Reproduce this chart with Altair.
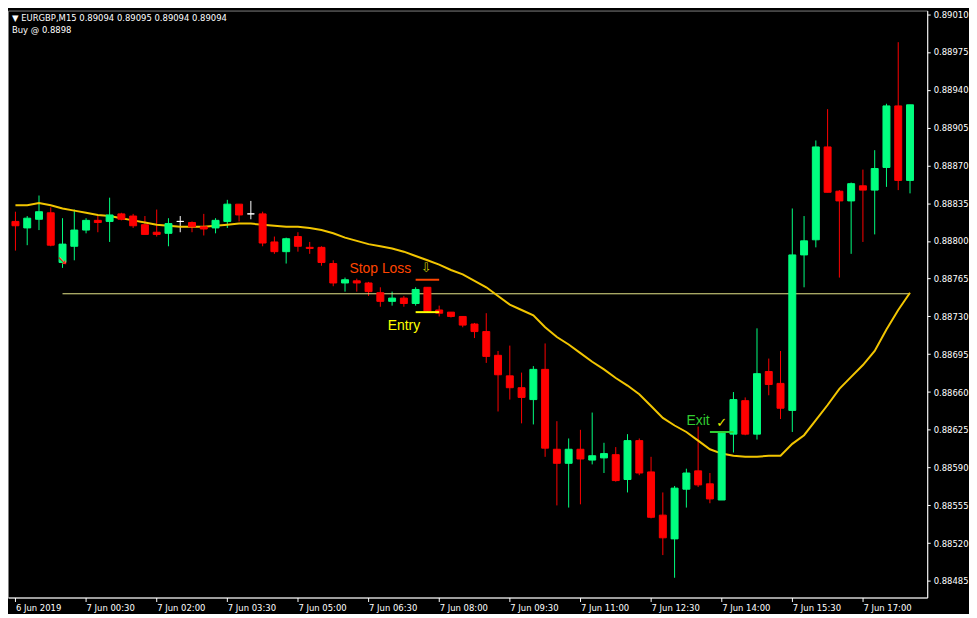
import altair as alt
import pandas as pd

# ---- data (EURGBP M15) ----
opens = [
    0.88818, 0.88812, 0.88820, 0.88826, 0.88780, 0.88795, 0.88810, 0.88819, 0.88818, 0.88825,
    0.88823, 0.88815, 0.88808, 0.88807, 0.88818, 0.88817, 0.88813, 0.88812, 0.88818, 0.88834,
    0.88825, 0.88825, 0.88799, 0.88790, 0.88804, 0.88794, 0.88794, 0.88779, 0.88761, 0.88763,
    0.88761, 0.88752, 0.88744, 0.88747, 0.88742, 0.88757, 0.88736, 0.88734, 0.88730, 0.88723,
    0.88716, 0.88694, 0.88675, 0.88664, 0.88653, 0.88681, 0.88607, 0.88594, 0.88607, 0.88597,
    0.88599, 0.88602, 0.88579, 0.88615, 0.88586, 0.88546, 0.88524, 0.88570, 0.88587, 0.88575,
    0.88560, 0.88621, 0.88652, 0.88621, 0.88679, 0.88668, 0.88643, 0.88787, 0.88801, 0.88887,
    0.88846, 0.88837, 0.88851, 0.88847, 0.88868, 0.88925, 0.88856]
highs = [
    0.88827, 0.88823, 0.88842, 0.88831, 0.88821, 0.88829, 0.88821, 0.88824, 0.88840, 0.88826,
    0.88825, 0.88823, 0.88829, 0.88821, 0.88823, 0.88818, 0.88825, 0.88821, 0.88838, 0.88834,
    0.88837, 0.88827, 0.88804, 0.88803, 0.88808, 0.88799, 0.88795, 0.88782, 0.88766, 0.88765,
    0.88762, 0.88757, 0.88753, 0.88749, 0.88757, 0.88757, 0.88740, 0.88734, 0.88730, 0.88724,
    0.88733, 0.88698, 0.88703, 0.88678, 0.88684, 0.88705, 0.88633, 0.88617, 0.88625, 0.88641,
    0.88613, 0.88609, 0.88621, 0.88617, 0.88600, 0.88567, 0.88573, 0.88589, 0.88628, 0.88585,
    0.88623, 0.88660, 0.88655, 0.88719, 0.88691, 0.88698, 0.88830, 0.88823, 0.88893, 0.88922,
    0.88847, 0.88854, 0.88866, 0.88884, 0.88927, 0.88984, 0.88926]
lows = [
    0.88791, 0.88796, 0.88810, 0.88795, 0.88775, 0.88782, 0.88807, 0.88808, 0.88799, 0.88819,
    0.88812, 0.88806, 0.88804, 0.88795, 0.88808, 0.88808, 0.88805, 0.88807, 0.88812, 0.88818,
    0.88820, 0.88795, 0.88788, 0.88779, 0.88790, 0.88788, 0.88777, 0.88758, 0.88753, 0.88753,
    0.88749, 0.88739, 0.88740, 0.88739, 0.88740, 0.88734, 0.88730, 0.88729, 0.88720, 0.88710,
    0.88687, 0.88642, 0.88653, 0.88631, 0.88630, 0.88600, 0.88555, 0.88553, 0.88556, 0.88593,
    0.88585, 0.88577, 0.88567, 0.88583, 0.88543, 0.88509, 0.88488, 0.88553, 0.88572, 0.88557,
    0.88560, 0.88604, 0.88620, 0.88616, 0.88657, 0.88635, 0.88623, 0.88757, 0.88794, 0.88845,
    0.88766, 0.88788, 0.88799, 0.88806, 0.88850, 0.88847, 0.88844]
closes = [
    0.88814, 0.88821, 0.88827, 0.88796, 0.88797, 0.88810, 0.88819, 0.88817, 0.88824, 0.88820,
    0.88814, 0.88806, 0.88806, 0.88816, 0.88818, 0.88813, 0.88811, 0.88819, 0.88834, 0.88824,
    0.88825, 0.88798, 0.88790, 0.88802, 0.88795, 0.88793, 0.88780, 0.88761, 0.88764, 0.88761,
    0.88753, 0.88744, 0.88747, 0.88742, 0.88755, 0.88735, 0.88733, 0.88730, 0.88722, 0.88716,
    0.88693, 0.88676, 0.88664, 0.88655, 0.88681, 0.88608, 0.88594, 0.88607, 0.88598, 0.88601,
    0.88603, 0.88578, 0.88615, 0.88585, 0.88544, 0.88525, 0.88571, 0.88585, 0.88574, 0.88561,
    0.88622, 0.88653, 0.88621, 0.88677, 0.88667, 0.88645, 0.88787, 0.88800, 0.88887, 0.88845,
    0.88837, 0.88853, 0.88847, 0.88867, 0.88925, 0.88856, 0.88926]
ma = [
    0.88833, 0.88833, 0.88835, 0.88833, 0.88830, 0.88828, 0.88826, 0.88824, 0.88823, 0.88821,
    0.88819, 0.88817, 0.88815, 0.88814, 0.88813, 0.88813, 0.88813, 0.88814, 0.88815, 0.88816,
    0.88816, 0.88815, 0.88814, 0.88813, 0.88813, 0.88812, 0.88810, 0.88807, 0.88803, 0.88800,
    0.88797, 0.88795, 0.88793, 0.88790, 0.88786, 0.88782, 0.88778, 0.88773, 0.88769, 0.88763,
    0.88757, 0.88749, 0.88741, 0.88736, 0.88731, 0.88720, 0.88711, 0.88704, 0.88696, 0.88688,
    0.88681, 0.88673, 0.88666, 0.88658, 0.88647, 0.88636, 0.88629, 0.88623, 0.88615, 0.88607,
    0.88603, 0.88601, 0.88600, 0.88600, 0.88601, 0.88601, 0.88612, 0.88620, 0.88634, 0.88648,
    0.88663, 0.88674, 0.88685, 0.88698, 0.88718, 0.88736, 0.88752]

x_tick_labels = ["6 Jun 2019", "7 Jun 00:30", "7 Jun 02:00", "7 Jun 03:30", "7 Jun 05:00",
                 "7 Jun 06:30", "7 Jun 08:00", "7 Jun 09:30", "7 Jun 11:00", "7 Jun 12:30",
                 "7 Jun 14:00", "7 Jun 15:30", "7 Jun 17:00"]
x_tick_bars = [0, 6, 12, 18, 24, 30, 36, 42, 48, 54, 60, 66, 72]
y_ticks = [0.88485, 0.88520, 0.88555, 0.88590, 0.88625, 0.88660, 0.88695, 0.88730,
           0.88765, 0.88800, 0.88835, 0.88870, 0.88905, 0.88940, 0.88975, 0.89010]

level_price = 0.88751
level_from, level_to = 4, 76
marks_lines = pd.DataFrame({
    "x": [34, 34, 59], "x2": [36, 36, 61],
    "y": [0.88764, 0.88734, 0.88623],
    "c": ["#ff4500", "#ffff00", "#32cd32"],
})
labels = pd.DataFrame({
    "x": [31.0, 33.0, 58.0], "y": [0.88774, 0.88721, 0.88633],
    "t": ["Stop Loss", "Entry", "Exit"],
    "c": ["#ff4500", "#ffff00", "#32cd32"],
})
symbols = pd.DataFrame({
    "x": [34.9, 60.0, 4.0], "y": [0.88775, 0.88631, 0.88781],
    "t": ["⇩", "✓", "➘"],
    "c": ["#c8c800", "#e8e800", "#ff2020"],
})
header_lines = ["▼ EURGBP,M15  0.89094 0.89095 0.89094 0.89094", "Buy @ 0.8898"]
header_prices = [0.89006, 0.88995]

# ---- build ----
n = len(opens)
df = pd.DataFrame({"i": list(range(n)), "open": opens, "high": highs,
                   "low": lows, "close": closes, "ma": ma})
df["dir"] = ["up" if c > o else ("down" if c < o else "doji") for o, c in zip(opens, closes)]

W, H = 924, 590
xs = alt.Scale(domain=[-0.21, 77.04], nice=False, zero=False)
ys = alt.Scale(domain=[0.884697, 0.890133], nice=False, zero=False)
cs = alt.Scale(domain=["up", "down", "doji"], range=["#00ff7f", "#ff0000", "#ffffff"])

label_expr = "[" + ",".join("'%s'" % s for s in x_tick_labels) + "][datum.value / 6]"

x_axis = alt.Axis(values=x_tick_bars, labelExpr=label_expr, orient="bottom", grid=False,
                  domainColor="#ffffff", tickColor="#ffffff", tickSize=4,
                  labelColor="#ffffff", labelFont="DejaVu Sans", labelFontSize=8.5,
                  labelAlign="left", labelPadding=2, labelOverlap=False, labelBound=False,
                  labelFlush=False, title=None)
y_axis = alt.Axis(values=y_ticks, format=".5f", orient="right", grid=False,
                  domainColor="#ffffff", tickColor="#ffffff", tickSize=3,
                  labelColor="#ffffff", labelFont="DejaVu Sans", labelFontSize=8.5,
                  labelPadding=3, labelOverlap=False, labelBound=False, labelFlush=False,
                  title=None)


def X(field):
    return alt.X(field, scale=xs, axis=x_axis)


def Y(field):
    return alt.Y(field, scale=ys, axis=y_axis)


base = alt.Chart(df)
wicks = base.mark_rule(strokeWidth=1, clip=True).encode(
    x=X("i:Q"), y=Y("low:Q"), y2="high:Q",
    color=alt.Color("dir:N", scale=cs, legend=None),
)
bodies = base.mark_bar(size=7, strokeWidth=1, clip=True).encode(
    x=X("i:Q"), y=Y("open:Q"), y2="close:Q",
    color=alt.Color("dir:N", scale=cs, legend=None),
    stroke=alt.Stroke("dir:N", scale=cs, legend=None),
)
ma_line = base.mark_line(color="#f2c500", strokeWidth=2, clip=True).encode(
    x=X("i:Q"), y=Y("ma:Q"))

level = alt.Chart(pd.DataFrame({"a": [level_from], "b": [level_to], "p": [level_price]})).mark_rule(
    color="#e6e68a", strokeWidth=1).encode(x=X("a:Q"), x2="b:Q", y=Y("p:Q"))

trade_lines = alt.Chart(marks_lines).mark_rule(strokeWidth=2).encode(
    x=X("x:Q"), x2="x2:Q", y=Y("y:Q"), color=alt.Color("c:N", scale=None))

trade_text = alt.Chart(labels).mark_text(font="Liberation Sans", fontSize=14,
                                         align="center", baseline="middle").encode(
    x=X("x:Q"), y=Y("y:Q"), text="t:N", color=alt.Color("c:N", scale=None))

sym_text = alt.Chart(symbols).mark_text(font="DejaVu Sans", fontSize=13,
                                        align="center", baseline="middle").encode(
    x=X("x:Q"), y=Y("y:Q"), text="t:N", color=alt.Color("c:N", scale=None))

header = alt.Chart(pd.DataFrame({"t": header_lines, "p": header_prices})).mark_text(
    font="DejaVu Sans", fontSize=8.5, color="#ffffff", align="left", baseline="middle").encode(
    x=alt.value(4), y=Y("p:Q"), text="t:N")

chart = alt.layer(wicks, level, ma_line, bodies, trade_lines, trade_text, sym_text, header).properties(
    width=W, height=H, background="#000000", padding=0
).configure_view(stroke="#808080", strokeWidth=1).configure_axis(grid=False)

chart.save("out.html", embed_options={"renderer": "svg", "actions": False})
